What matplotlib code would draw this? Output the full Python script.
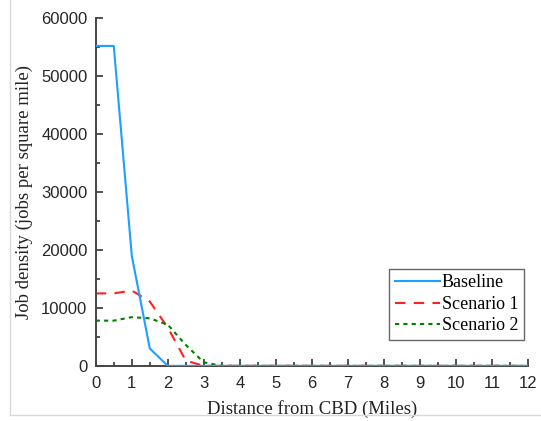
"""Job density vs distance from CBD."""

import matplotlib

matplotlib.use("Agg")
import matplotlib.pyplot as plt
from matplotlib.lines import Line2D
from matplotlib.ticker import MultipleLocator

distance = [0, 0.5, 1, 1.5, 2, 2.5, 3, 3.5, 4, 4.5, 5, 5.5, 6, 6.5, 7, 7.5, 8,
            8.5, 9, 9.5, 10, 10.5, 11, 11.5, 12]
baseline = [55200, 55200, 19000, 3000, 0, 0, 0, 0, 0, 0, 0, 0, 0, 0, 0, 0, 0,
            0, 0, 0, 0, 0, 0, 0, 0]
scenario1 = [12500, 12500, 13000, 11100, 6600, 900, 0, 0, 0, 0, 0, 0, 0, 0, 0,
             0, 0, 0, 0, 0, 0, 0, 0, 0, 0]
scenario2 = [7800, 7800, 8400, 8200, 7100, 3600, 600, 0, 0, 0, 0, 0, 0, 0, 0,
             0, 0, 0, 0, 0, 0, 0, 0, 0, 0]

SERIF = ["Liberation Serif", "DejaVu Serif"]
SANS = ["Liberation Sans", "DejaVu Sans"]

fig = plt.figure(figsize=(5.41, 4.21), dpi=100)
ax = fig.add_axes([0.177, 0.131, 0.799, 0.826])

ax.plot(distance, baseline, color="#1ca0ff", lw=1.5, label="Baseline", zorder=3)
ax.plot(distance, scenario1, color="#ff2020", lw=1.5, ls=(0, (5, 4)),
        label="Scenario 1", zorder=2)
ax.plot(distance, scenario2, color="#008000", lw=1.5, ls=(0, (2, 2)),
        label="Scenario 2", zorder=2)

ax.set_xlim(0, 12)
ax.set_ylim(0, 60000)
ax.xaxis.set_major_locator(MultipleLocator(1))
ax.xaxis.set_minor_locator(MultipleLocator(0.5))
ax.yaxis.set_major_locator(MultipleLocator(10000))
ax.yaxis.set_minor_locator(MultipleLocator(5000))
ax.tick_params(which="both", direction="in", color="#333333", width=1.2)
ax.tick_params(which="major", length=5, labelsize=12, colors="#333333",
               labelcolor="#262626")
ax.tick_params(which="minor", length=3)
ax.tick_params(axis="x", pad=7)
ax.tick_params(axis="y", pad=6)
for lab in ax.get_xticklabels() + ax.get_yticklabels():
    lab.set_family(SANS)

for side in ("top", "right"):
    ax.spines[side].set_visible(False)
for side in ("left", "bottom"):
    ax.spines[side].set_color("#444444")
    ax.spines[side].set_linewidth(1.4)

ax.set_xlabel("Distance from CBD (Miles)", family=SERIF, fontsize=13.5,
              color="#222222", labelpad=7)
ax.set_ylabel("Job density (jobs per square mile)", family=SERIF,
              fontsize=13.5, color="#222222", labelpad=6)

leg = ax.legend(loc="lower right", bbox_to_anchor=(0.99, 0.075),
                prop={"family": SERIF, "size": 13}, frameon=True,
                fancybox=False, edgecolor="#666666", framealpha=1,
                handlelength=2.5, handletextpad=0.1, borderpad=0.3,
                labelspacing=0.25, borderaxespad=0)
leg.get_frame().set_linewidth(1.0)

# thin image frame lines seen in the reference
fig.add_artist(Line2D([10 / 541, 10 / 541], [6 / 421, 1], color="#d8d8d8",
                      lw=1.0, transform=fig.transFigure))
fig.add_artist(Line2D([10 / 541, 1], [6 / 421, 6 / 421], color="#d8d8d8",
                      lw=1.0, transform=fig.transFigure))

fig.savefig("out.png", dpi=100)
